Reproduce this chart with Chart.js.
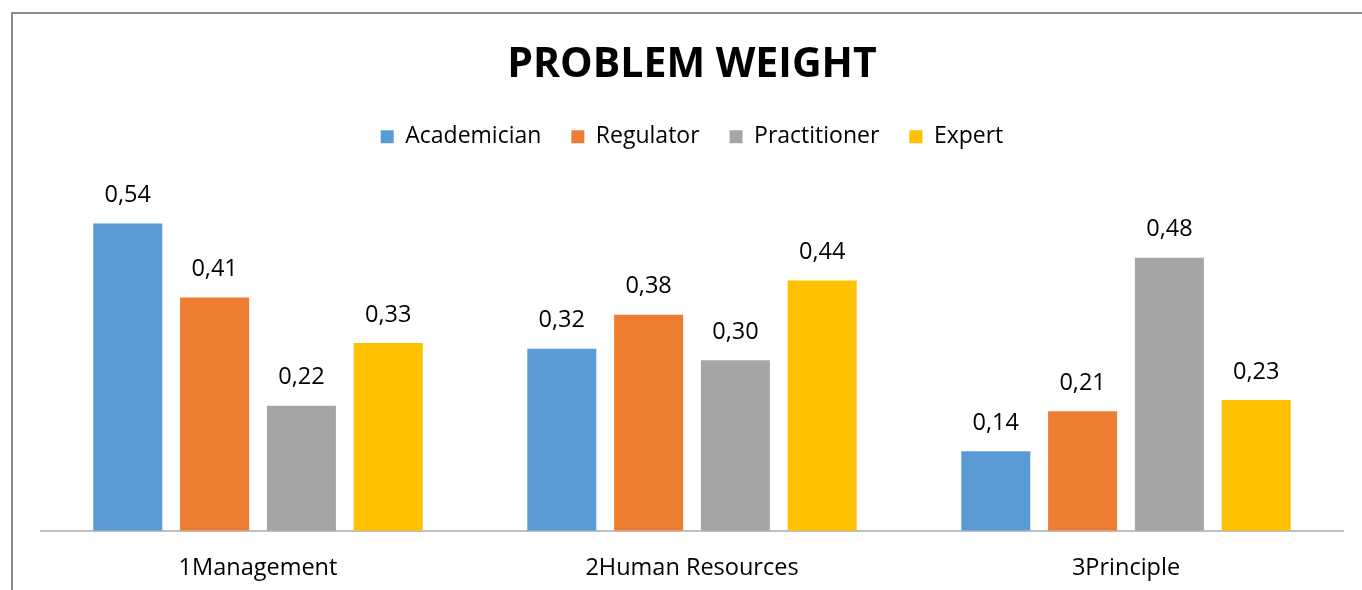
<!DOCTYPE html>
<html>
<head>
<meta charset="utf-8">
<script src="https://cdn.jsdelivr.net/npm/chart.js@4/dist/chart.umd.min.js"></script>
<style>
  html, body { margin: 0; padding: 0; background: #fff; }
  #wrap { position: relative; width: 1362px; height: 590px; overflow: hidden; }
  #frame { position: absolute; left: 11px; top: 12px; width: 1400px; height: 700px;
           border-left: 2px solid #8a8a8a; border-top: 2px solid #8a8a8a; }
  canvas { position: absolute; left: 0; top: 0; }
</style>
</head>
<body>
<div id="wrap">
  <div id="frame"></div>
  <canvas id="chart" width="1362" height="597"></canvas>
</div>
<script>
// categories and series
var categories = ["1Management", "2Human Resources", "3Principle"];
var academician = [0.54, 0.32, 0.14];
var regulator = [0.41, 0.38, 0.21];
var practitioner = [0.22, 0.30, 0.48];
var expert = [0.33, 0.44, 0.23];

var FONT = "'Open Sans', 'DejaVu Sans', sans-serif";

// data labels like "0,54"
const valueLabels = {
  id: "valueLabels",
  afterDatasetsDraw(chart) {
    const ctx = chart.ctx;
    ctx.save();
    ctx.font = "23.5px " + FONT;
    ctx.fillStyle = "#000";
    ctx.textAlign = "center";
    ctx.textBaseline = "middle";
    chart.data.datasets.forEach((ds, i) => {
      chart.getDatasetMeta(i).data.forEach((bar, j) => {
        ctx.fillText(ds.data[j].toFixed(2).replace(".", ","), bar.x, bar.y - 28);
      });
    });
    ctx.restore();
  },
};

const ctx = document.getElementById("chart").getContext("2d");
const chart = new Chart(ctx, {
  type: "bar",
  data: {
    labels: categories,
    datasets: [
      { label: "Academician", data: academician, backgroundColor: "#5b9bd5" },
      { label: "Regulator", data: regulator, backgroundColor: "#ed7d31" },
      { label: "Practitioner", data: practitioner, backgroundColor: "#a5a5a5" },
      { label: "Expert", data: expert, backgroundColor: "#ffc000" },
    ],
  },
  options: {
    responsive: false,
    animation: false,
    layout: { padding: { left: 41, right: 19, top: 0, bottom: 0 } },
    datasets: { bar: { categoryPercentage: 0.8, barPercentage: 0.795 } },
    plugins: {
      title: {
        display: true,
        text: "PROBLEM WEIGHT",
        color: "#000",
        font: { family: FONT, size: 41, weight: "bold" },
        padding: { top: 41, bottom: 5 },
      },
      legend: {
        position: "top",
        labels: {
          color: "#000",
          font: { family: FONT, size: 23 },
          boxWidth: 13,
          boxHeight: 13,
          padding: 30,
        },
      },
      tooltip: { enabled: false },
    },
    scales: {
      x: {
        grid: { display: false },
        border: { color: "#bfbfbf", width: 2 },
        ticks: { color: "#000", font: { family: FONT, size: 23.5 }, padding: 15 },
      },
      y: {
        display: false,
        min: 0,
        max: 0.655,
      },
    },
  },
  plugins: [valueLabels],
});
</script>
</body>
</html>
